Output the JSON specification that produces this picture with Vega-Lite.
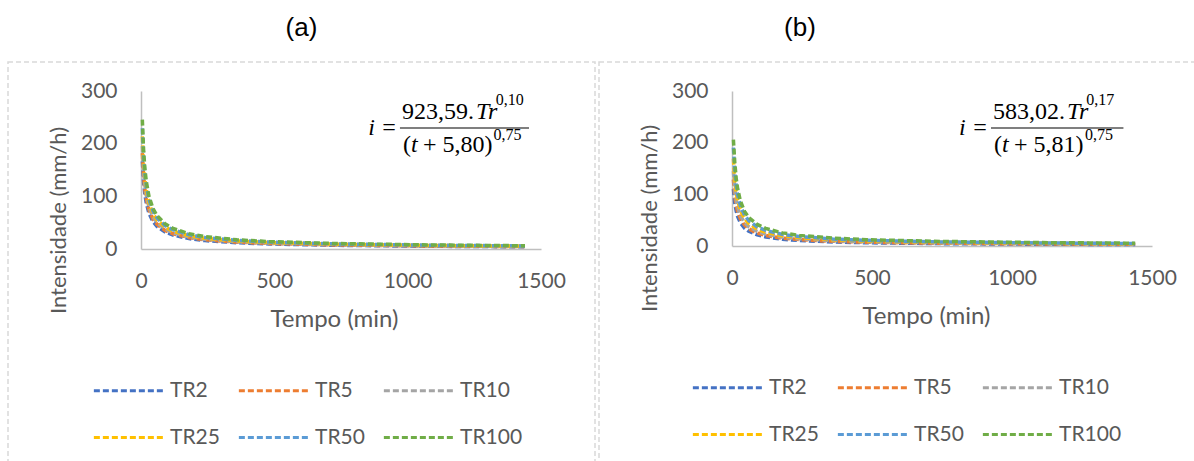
{
  "$schema": "https://vega.github.io/schema/vega-lite/v6.json",
  "background": "white",
  "padding": {"left": 7, "top": 14, "right": 0, "bottom": 0},
  "spacing": 2,
  "config": {
    "font": "Lato",
    "view": {"stroke": "#D9D9D9", "strokeWidth": 1.5, "strokeDash": [5, 3]},
    "title": {"font": "Liberation Sans", "fontSize": 26, "fontWeight": "normal", "color": "#000000", "offset": 21},
    "axis": {"grid": false, "ticks": false, "domainColor": "#BFBFBF", "domainWidth": 1.5, "labelFont": "Lato", "labelFontSize": 21, "labelColor": "#595959", "titleFont": "Lato", "titleFontSize": 22, "titleColor": "#595959", "titleFontWeight": "normal", "labelFlush": false},
    "axisX": {"titleFontSize": 24},
    "legend": {"orient": "none", "direction": "horizontal", "columns": 3, "symbolType": "stroke", "symbolSize": 4800, "symbolStrokeWidth": 3, "symbolDash": [6, 3], "labelFont": "Lato", "labelFontSize": 21, "labelColor": "#595959", "labelOffset": 5, "columnPadding": 12, "rowPadding": 0}
  },
  "resolve": {"legend": {"color": "independent"}},
  "datasets": {
    "a": [
      {"TR": "TR2", "Tempo": 5, "Intensidade": 166.2}, {"TR": "TR2", "Tempo": 10, "Intensidade": 124.9}, {"TR": "TR2", "Tempo": 15, "Intensidade": 101.6}, {"TR": "TR2", "Tempo": 20, "Intensidade": 86.5}, {"TR": "TR2", "Tempo": 30, "Intensidade": 67.6}, {"TR": "TR2", "Tempo": 45, "Intensidade": 52.0}, {"TR": "TR2", "Tempo": 60, "Intensidade": 42.9}, {"TR": "TR2", "Tempo": 90, "Intensidade": 32.3}, {"TR": "TR2", "Tempo": 120, "Intensidade": 26.4}, {"TR": "TR2", "Tempo": 180, "Intensidade": 19.7}, {"TR": "TR2", "Tempo": 240, "Intensidade": 15.9}, {"TR": "TR2", "Tempo": 360, "Intensidade": 11.8}, {"TR": "TR2", "Tempo": 480, "Intensidade": 9.6}, {"TR": "TR2", "Tempo": 720, "Intensidade": 7.1}, {"TR": "TR2", "Tempo": 1080, "Intensidade": 5.2}, {"TR": "TR2", "Tempo": 1440, "Intensidade": 4.2},
      {"TR": "TR5", "Tempo": 5, "Intensidade": 182.1}, {"TR": "TR5", "Tempo": 10, "Intensidade": 136.9}, {"TR": "TR5", "Tempo": 15, "Intensidade": 111.4}, {"TR": "TR5", "Tempo": 20, "Intensidade": 94.8}, {"TR": "TR5", "Tempo": 30, "Intensidade": 74.1}, {"TR": "TR5", "Tempo": 45, "Intensidade": 57.0}, {"TR": "TR5", "Tempo": 60, "Intensidade": 47.0}, {"TR": "TR5", "Tempo": 90, "Intensidade": 35.4}, {"TR": "TR5", "Tempo": 120, "Intensidade": 28.9}, {"TR": "TR5", "Tempo": 180, "Intensidade": 21.6}, {"TR": "TR5", "Tempo": 240, "Intensidade": 17.5}, {"TR": "TR5", "Tempo": 360, "Intensidade": 13.0}, {"TR": "TR5", "Tempo": 480, "Intensidade": 10.5}, {"TR": "TR5", "Tempo": 720, "Intensidade": 7.8}, {"TR": "TR5", "Tempo": 1080, "Intensidade": 5.7}, {"TR": "TR5", "Tempo": 1440, "Intensidade": 4.6},
      {"TR": "TR10", "Tempo": 5, "Intensidade": 195.2}, {"TR": "TR10", "Tempo": 10, "Intensidade": 146.7}, {"TR": "TR10", "Tempo": 15, "Intensidade": 119.4}, {"TR": "TR10", "Tempo": 20, "Intensidade": 101.5}, {"TR": "TR10", "Tempo": 30, "Intensidade": 79.4}, {"TR": "TR10", "Tempo": 45, "Intensidade": 61.1}, {"TR": "TR10", "Tempo": 60, "Intensidade": 50.3}, {"TR": "TR10", "Tempo": 90, "Intensidade": 38.0}, {"TR": "TR10", "Tempo": 120, "Intensidade": 31.0}, {"TR": "TR10", "Tempo": 180, "Intensidade": 23.1}, {"TR": "TR10", "Tempo": 240, "Intensidade": 18.7}, {"TR": "TR10", "Tempo": 360, "Intensidade": 13.9}, {"TR": "TR10", "Tempo": 480, "Intensidade": 11.2}, {"TR": "TR10", "Tempo": 720, "Intensidade": 8.3}, {"TR": "TR10", "Tempo": 1080, "Intensidade": 6.1}, {"TR": "TR10", "Tempo": 1440, "Intensidade": 5.0},
      {"TR": "TR25", "Tempo": 5, "Intensidade": 213.9}, {"TR": "TR25", "Tempo": 10, "Intensidade": 160.8}, {"TR": "TR25", "Tempo": 15, "Intensidade": 130.8}, {"TR": "TR25", "Tempo": 20, "Intensidade": 111.3}, {"TR": "TR25", "Tempo": 30, "Intensidade": 87.1}, {"TR": "TR25", "Tempo": 45, "Intensidade": 67.0}, {"TR": "TR25", "Tempo": 60, "Intensidade": 55.2}, {"TR": "TR25", "Tempo": 90, "Intensidade": 41.6}, {"TR": "TR25", "Tempo": 120, "Intensidade": 33.9}, {"TR": "TR25", "Tempo": 180, "Intensidade": 25.3}, {"TR": "TR25", "Tempo": 240, "Intensidade": 20.5}, {"TR": "TR25", "Tempo": 360, "Intensidade": 15.2}, {"TR": "TR25", "Tempo": 480, "Intensidade": 12.3}, {"TR": "TR25", "Tempo": 720, "Intensidade": 9.1}, {"TR": "TR25", "Tempo": 1080, "Intensidade": 6.7}, {"TR": "TR25", "Tempo": 1440, "Intensidade": 5.4},
      {"TR": "TR50", "Tempo": 5, "Intensidade": 229.3}, {"TR": "TR50", "Tempo": 10, "Intensidade": 172.3}, {"TR": "TR50", "Tempo": 15, "Intensidade": 140.2}, {"TR": "TR50", "Tempo": 20, "Intensidade": 119.3}, {"TR": "TR50", "Tempo": 30, "Intensidade": 93.3}, {"TR": "TR50", "Tempo": 45, "Intensidade": 71.8}, {"TR": "TR50", "Tempo": 60, "Intensidade": 59.1}, {"TR": "TR50", "Tempo": 90, "Intensidade": 44.6}, {"TR": "TR50", "Tempo": 120, "Intensidade": 36.4}, {"TR": "TR50", "Tempo": 180, "Intensidade": 27.1}, {"TR": "TR50", "Tempo": 240, "Intensidade": 22.0}, {"TR": "TR50", "Tempo": 360, "Intensidade": 16.3}, {"TR": "TR50", "Tempo": 480, "Intensidade": 13.2}, {"TR": "TR50", "Tempo": 720, "Intensidade": 9.8}, {"TR": "TR50", "Tempo": 1080, "Intensidade": 7.2}, {"TR": "TR50", "Tempo": 1440, "Intensidade": 5.8},
      {"TR": "TR100", "Tempo": 5, "Intensidade": 245.7}, {"TR": "TR100", "Tempo": 10, "Intensidade": 184.7}, {"TR": "TR100", "Tempo": 15, "Intensidade": 150.3}, {"TR": "TR100", "Tempo": 20, "Intensidade": 127.8}, {"TR": "TR100", "Tempo": 30, "Intensidade": 100.0}, {"TR": "TR100", "Tempo": 45, "Intensidade": 76.9}, {"TR": "TR100", "Tempo": 60, "Intensidade": 63.4}, {"TR": "TR100", "Tempo": 90, "Intensidade": 47.8}, {"TR": "TR100", "Tempo": 120, "Intensidade": 39.0}, {"TR": "TR100", "Tempo": 180, "Intensidade": 29.1}, {"TR": "TR100", "Tempo": 240, "Intensidade": 23.6}, {"TR": "TR100", "Tempo": 360, "Intensidade": 17.5}, {"TR": "TR100", "Tempo": 480, "Intensidade": 14.1}, {"TR": "TR100", "Tempo": 720, "Intensidade": 10.5}, {"TR": "TR100", "Tempo": 1080, "Intensidade": 7.7}, {"TR": "TR100", "Tempo": 1440, "Intensidade": 6.2}
    ],
    "b": [
      {"TR": "TR2", "Tempo": 5, "Intensidade": 110.1}, {"TR": "TR2", "Tempo": 10, "Intensidade": 82.8}, {"TR": "TR2", "Tempo": 15, "Intensidade": 67.3}, {"TR": "TR2", "Tempo": 20, "Intensidade": 57.3}, {"TR": "TR2", "Tempo": 30, "Intensidade": 44.8}, {"TR": "TR2", "Tempo": 45, "Intensidade": 34.5}, {"TR": "TR2", "Tempo": 60, "Intensidade": 28.4}, {"TR": "TR2", "Tempo": 90, "Intensidade": 21.4}, {"TR": "TR2", "Tempo": 120, "Intensidade": 17.5}, {"TR": "TR2", "Tempo": 180, "Intensidade": 13.0}, {"TR": "TR2", "Tempo": 240, "Intensidade": 10.6}, {"TR": "TR2", "Tempo": 360, "Intensidade": 7.8}, {"TR": "TR2", "Tempo": 480, "Intensidade": 6.3}, {"TR": "TR2", "Tempo": 720, "Intensidade": 4.7}, {"TR": "TR2", "Tempo": 1080, "Intensidade": 3.5}, {"TR": "TR2", "Tempo": 1440, "Intensidade": 2.8},
      {"TR": "TR5", "Tempo": 5, "Intensidade": 128.7}, {"TR": "TR5", "Tempo": 10, "Intensidade": 96.7}, {"TR": "TR5", "Tempo": 15, "Intensidade": 78.7}, {"TR": "TR5", "Tempo": 20, "Intensidade": 66.9}, {"TR": "TR5", "Tempo": 30, "Intensidade": 52.4}, {"TR": "TR5", "Tempo": 45, "Intensidade": 40.3}, {"TR": "TR5", "Tempo": 60, "Intensidade": 33.2}, {"TR": "TR5", "Tempo": 90, "Intensidade": 25.0}, {"TR": "TR5", "Tempo": 120, "Intensidade": 20.4}, {"TR": "TR5", "Tempo": 180, "Intensidade": 15.2}, {"TR": "TR5", "Tempo": 240, "Intensidade": 12.3}, {"TR": "TR5", "Tempo": 360, "Intensidade": 9.2}, {"TR": "TR5", "Tempo": 480, "Intensidade": 7.4}, {"TR": "TR5", "Tempo": 720, "Intensidade": 5.5}, {"TR": "TR5", "Tempo": 1080, "Intensidade": 4.1}, {"TR": "TR5", "Tempo": 1440, "Intensidade": 3.3},
      {"TR": "TR10", "Tempo": 5, "Intensidade": 144.8}, {"TR": "TR10", "Tempo": 10, "Intensidade": 108.8}, {"TR": "TR10", "Tempo": 15, "Intensidade": 88.5}, {"TR": "TR10", "Tempo": 20, "Intensidade": 75.3}, {"TR": "TR10", "Tempo": 30, "Intensidade": 58.9}, {"TR": "TR10", "Tempo": 45, "Intensidade": 45.3}, {"TR": "TR10", "Tempo": 60, "Intensidade": 37.3}, {"TR": "TR10", "Tempo": 90, "Intensidade": 28.2}, {"TR": "TR10", "Tempo": 120, "Intensidade": 23.0}, {"TR": "TR10", "Tempo": 180, "Intensidade": 17.1}, {"TR": "TR10", "Tempo": 240, "Intensidade": 13.9}, {"TR": "TR10", "Tempo": 360, "Intensidade": 10.3}, {"TR": "TR10", "Tempo": 480, "Intensidade": 8.3}, {"TR": "TR10", "Tempo": 720, "Intensidade": 6.2}, {"TR": "TR10", "Tempo": 1080, "Intensidade": 4.6}, {"TR": "TR10", "Tempo": 1440, "Intensidade": 3.7},
      {"TR": "TR25", "Tempo": 5, "Intensidade": 169.2}, {"TR": "TR25", "Tempo": 10, "Intensidade": 127.2}, {"TR": "TR25", "Tempo": 15, "Intensidade": 103.5}, {"TR": "TR25", "Tempo": 20, "Intensidade": 88.0}, {"TR": "TR25", "Tempo": 30, "Intensidade": 68.9}, {"TR": "TR25", "Tempo": 45, "Intensidade": 53.0}, {"TR": "TR25", "Tempo": 60, "Intensidade": 43.6}, {"TR": "TR25", "Tempo": 90, "Intensidade": 32.9}, {"TR": "TR25", "Tempo": 120, "Intensidade": 26.8}, {"TR": "TR25", "Tempo": 180, "Intensidade": 20.0}, {"TR": "TR25", "Tempo": 240, "Intensidade": 16.2}, {"TR": "TR25", "Tempo": 360, "Intensidade": 12.1}, {"TR": "TR25", "Tempo": 480, "Intensidade": 9.7}, {"TR": "TR25", "Tempo": 720, "Intensidade": 7.2}, {"TR": "TR25", "Tempo": 1080, "Intensidade": 5.3}, {"TR": "TR25", "Tempo": 1440, "Intensidade": 4.3},
      {"TR": "TR50", "Tempo": 5, "Intensidade": 190.4}, {"TR": "TR50", "Tempo": 10, "Intensidade": 143.1}, {"TR": "TR50", "Tempo": 15, "Intensidade": 116.4}, {"TR": "TR50", "Tempo": 20, "Intensidade": 99.1}, {"TR": "TR50", "Tempo": 30, "Intensidade": 77.5}, {"TR": "TR50", "Tempo": 45, "Intensidade": 59.6}, {"TR": "TR50", "Tempo": 60, "Intensidade": 49.1}, {"TR": "TR50", "Tempo": 90, "Intensidade": 37.0}, {"TR": "TR50", "Tempo": 120, "Intensidade": 30.2}, {"TR": "TR50", "Tempo": 180, "Intensidade": 22.5}, {"TR": "TR50", "Tempo": 240, "Intensidade": 18.3}, {"TR": "TR50", "Tempo": 360, "Intensidade": 13.6}, {"TR": "TR50", "Tempo": 480, "Intensidade": 11.0}, {"TR": "TR50", "Tempo": 720, "Intensidade": 8.1}, {"TR": "TR50", "Tempo": 1080, "Intensidade": 6.0}, {"TR": "TR50", "Tempo": 1440, "Intensidade": 4.8},
      {"TR": "TR100", "Tempo": 5, "Intensidade": 206.0}, {"TR": "TR100", "Tempo": 10, "Intensidade": 160.9}, {"TR": "TR100", "Tempo": 15, "Intensidade": 130.9}, {"TR": "TR100", "Tempo": 20, "Intensidade": 111.4}, {"TR": "TR100", "Tempo": 30, "Intensidade": 87.1}, {"TR": "TR100", "Tempo": 45, "Intensidade": 67.0}, {"TR": "TR100", "Tempo": 60, "Intensidade": 55.2}, {"TR": "TR100", "Tempo": 90, "Intensidade": 41.7}, {"TR": "TR100", "Tempo": 120, "Intensidade": 34.0}, {"TR": "TR100", "Tempo": 180, "Intensidade": 25.4}, {"TR": "TR100", "Tempo": 240, "Intensidade": 20.5}, {"TR": "TR100", "Tempo": 360, "Intensidade": 15.3}, {"TR": "TR100", "Tempo": 480, "Intensidade": 12.3}, {"TR": "TR100", "Tempo": 720, "Intensidade": 9.1}, {"TR": "TR100", "Tempo": 1080, "Intensidade": 6.7}, {"TR": "TR100", "Tempo": 1440, "Intensidade": 5.4}
    ]
  },
  "hconcat": [
    {
      "width": 587,
      "height": 402,
      "title": {"text": "(a)"},
      "layer": [
        {
          "data": {"name": "a"},
          "mark": {"type": "line", "strokeWidth": 3.5, "strokeDash": [6, 3]},
          "encoding": {
            "x": {"field": "Tempo", "type": "quantitative", "scale": {"domain": [0, 1500], "nice": false, "range": [133, 533]}, "axis": {"values": [0, 500, 1000, 1500], "format": "d", "title": "Tempo (min)", "offset": -215, "labelPadding": 21, "titlePadding": 16, "titleX": 326}},
            "y": {"field": "Intensidade", "type": "quantitative", "scale": {"domain": [0, 300], "nice": false, "range": [187, 29]}, "axis": {"values": [0, 100, 200, 300], "format": "d", "title": "Intensidade (mm/h)", "offset": -133, "labelPadding": 24, "titlePadding": 10, "titleY": 158}},
            "color": {"field": "TR", "type": "nominal", "sort": ["TR2", "TR5", "TR10", "TR25", "TR50", "TR100"], "scale": {"domain": ["TR2", "TR5", "TR10", "TR25", "TR50", "TR100"], "range": ["#4472C4", "#ED7D31", "#A5A5A5", "#FFC000", "#5B9BD5", "#70AD47"]}, "legend": {"title": null, "legendX": 84, "legendY": 292}}
          }
        },
        {"data": {"values": [{}]}, "mark": {"type": "text", "font": "Liberation Serif", "fontSize": 24, "fontStyle": "italic", "align": "right", "baseline": "middle", "color": "#000000"}, "encoding": {"x": {"datum": 960, "type": "quantitative"}, "y": {"datum": 229.7, "type": "quantitative"}, "text": {"value": "i ="}}},
        {"data": {"values": [{}]}, "mark": {"type": "text", "font": "Liberation Serif", "fontSize": 24, "align": "left", "baseline": "middle", "color": "#000000"}, "encoding": {"x": {"datum": 978.75, "type": "quantitative"}, "y": {"datum": 261, "type": "quantitative"}, "text": {"value": "923,59."}}},
        {"data": {"values": [{}]}, "mark": {"type": "text", "font": "Liberation Serif", "fontSize": 24, "fontStyle": "italic", "align": "left", "baseline": "middle", "color": "#000000"}, "encoding": {"x": {"datum": 1256, "type": "quantitative"}, "y": {"datum": 261, "type": "quantitative"}, "text": {"value": "Tr"}}},
        {"data": {"values": [{}]}, "mark": {"type": "text", "font": "Liberation Serif", "fontSize": 16, "align": "left", "baseline": "middle", "color": "#000000"}, "encoding": {"x": {"datum": 1330, "type": "quantitative"}, "y": {"datum": 283, "type": "quantitative"}, "text": {"value": "0,10"}}},
        {"data": {"values": [{}]}, "mark": {"type": "rule", "strokeWidth": 1.2, "color": "#000000"}, "encoding": {"x": {"datum": 971, "type": "quantitative"}, "x2": {"datum": 1455}, "y": {"datum": 229.7, "type": "quantitative"}}},
        {"data": {"values": [{}]}, "mark": {"type": "text", "font": "Liberation Serif", "fontSize": 24, "align": "left", "baseline": "middle", "color": "#000000"}, "encoding": {"x": {"datum": 982.5, "type": "quantitative"}, "y": {"datum": 197, "type": "quantitative"}, "text": {"value": "("}}},
        {"data": {"values": [{}]}, "mark": {"type": "text", "font": "Liberation Serif", "fontSize": 24, "fontStyle": "italic", "align": "left", "baseline": "middle", "color": "#000000"}, "encoding": {"x": {"datum": 1012.5, "type": "quantitative"}, "y": {"datum": 197, "type": "quantitative"}, "text": {"value": "t"}}},
        {"data": {"values": [{}]}, "mark": {"type": "text", "font": "Liberation Serif", "fontSize": 24, "align": "left", "baseline": "middle", "color": "#000000"}, "encoding": {"x": {"datum": 1057.5, "type": "quantitative"}, "y": {"datum": 197, "type": "quantitative"}, "text": {"value": "+ 5,80)"}}},
        {"data": {"values": [{}]}, "mark": {"type": "text", "font": "Liberation Serif", "fontSize": 16, "align": "left", "baseline": "middle", "color": "#000000"}, "encoding": {"x": {"datum": 1322, "type": "quantitative"}, "y": {"datum": 216.5, "type": "quantitative"}, "text": {"value": "0,75"}}}
      ]
    },
    {
      "width": 600,
      "height": 402,
      "title": {"text": "(b)", "dx": -99},
      "layer": [
        {
          "data": {"name": "b"},
          "mark": {"type": "line", "strokeWidth": 3.5, "strokeDash": [6, 3]},
          "encoding": {
            "x": {"field": "Tempo", "type": "quantitative", "scale": {"domain": [0, 1500], "nice": false, "range": [133, 553]}, "axis": {"values": [0, 500, 1000, 1500], "format": "d", "title": "Tempo (min)", "offset": -218, "labelPadding": 21, "titlePadding": 16, "titleX": 327}},
            "y": {"field": "Intensidade", "type": "quantitative", "scale": {"domain": [0, 300], "nice": false, "range": [184, 29]}, "axis": {"values": [0, 100, 200, 300], "format": "d", "title": "Intensidade (mm/h)", "offset": -133, "labelPadding": 24, "titlePadding": 10, "titleY": 156}},
            "color": {"field": "TR", "type": "nominal", "sort": ["TR2", "TR5", "TR10", "TR25", "TR50", "TR100"], "scale": {"domain": ["TR2", "TR5", "TR10", "TR25", "TR50", "TR100"], "range": ["#4472C4", "#ED7D31", "#A5A5A5", "#FFC000", "#5B9BD5", "#70AD47"]}, "legend": {"title": null, "legendX": 92, "legendY": 289}}
          }
        },
        {"data": {"values": [{}]}, "mark": {"type": "text", "font": "Liberation Serif", "fontSize": 24, "fontStyle": "italic", "align": "right", "baseline": "middle", "color": "#000000"}, "encoding": {"x": {"datum": 914, "type": "quantitative"}, "y": {"datum": 228.4, "type": "quantitative"}, "text": {"value": "i ="}}},
        {"data": {"values": [{}]}, "mark": {"type": "text", "font": "Liberation Serif", "fontSize": 24, "align": "left", "baseline": "middle", "color": "#000000"}, "encoding": {"x": {"datum": 932, "type": "quantitative"}, "y": {"datum": 260, "type": "quantitative"}, "text": {"value": "583,02."}}},
        {"data": {"values": [{}]}, "mark": {"type": "text", "font": "Liberation Serif", "fontSize": 24, "fontStyle": "italic", "align": "left", "baseline": "middle", "color": "#000000"}, "encoding": {"x": {"datum": 1196, "type": "quantitative"}, "y": {"datum": 260, "type": "quantitative"}, "text": {"value": "Tr"}}},
        {"data": {"values": [{}]}, "mark": {"type": "text", "font": "Liberation Serif", "fontSize": 16, "align": "left", "baseline": "middle", "color": "#000000"}, "encoding": {"x": {"datum": 1265, "type": "quantitative"}, "y": {"datum": 282.5, "type": "quantitative"}, "text": {"value": "0,17"}}},
        {"data": {"values": [{}]}, "mark": {"type": "rule", "strokeWidth": 1.2, "color": "#000000"}, "encoding": {"x": {"datum": 925, "type": "quantitative"}, "x2": {"datum": 1398}, "y": {"datum": 228.4, "type": "quantitative"}}},
        {"data": {"values": [{}]}, "mark": {"type": "text", "font": "Liberation Serif", "fontSize": 24, "align": "left", "baseline": "middle", "color": "#000000"}, "encoding": {"x": {"datum": 935.7, "type": "quantitative"}, "y": {"datum": 195, "type": "quantitative"}, "text": {"value": "("}}},
        {"data": {"values": [{}]}, "mark": {"type": "text", "font": "Liberation Serif", "fontSize": 24, "fontStyle": "italic", "align": "left", "baseline": "middle", "color": "#000000"}, "encoding": {"x": {"datum": 964.3, "type": "quantitative"}, "y": {"datum": 195, "type": "quantitative"}, "text": {"value": "t"}}},
        {"data": {"values": [{}]}, "mark": {"type": "text", "font": "Liberation Serif", "fontSize": 24, "align": "left", "baseline": "middle", "color": "#000000"}, "encoding": {"x": {"datum": 1007, "type": "quantitative"}, "y": {"datum": 195, "type": "quantitative"}, "text": {"value": "+ 5,81)"}}},
        {"data": {"values": [{}]}, "mark": {"type": "text", "font": "Liberation Serif", "fontSize": 16, "align": "left", "baseline": "middle", "color": "#000000"}, "encoding": {"x": {"datum": 1261, "type": "quantitative"}, "y": {"datum": 214.8, "type": "quantitative"}, "text": {"value": "0,75"}}}
      ]
    }
  ]
}
